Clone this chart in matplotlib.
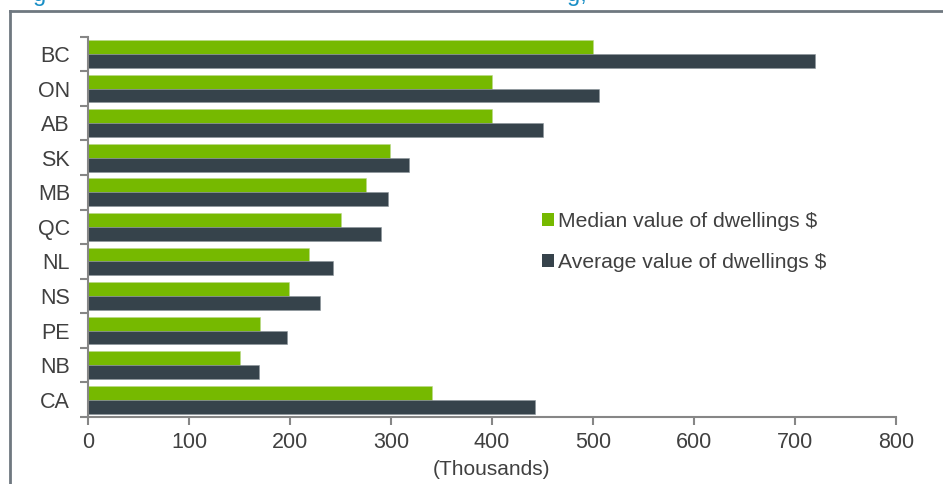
import matplotlib
matplotlib.use("Agg")
import matplotlib.pyplot as plt
from matplotlib.lines import Line2D
from matplotlib.patches import Patch
import numpy as np

plt.rcParams['font.family'] = ['Liberation Sans', 'DejaVu Sans']

provinces = ["BC", "ON", "AB", "SK", "MB", "QC", "NL", "NS", "PE", "NB", "CA"]
median_value = [500, 400, 400, 299, 275, 250, 219, 199, 170, 150, 341]
average_value = [720, 506, 450, 318, 297, 290, 243, 230, 197, 169, 443]
x_ticks = [0, 100, 200, 300, 400, 500, 600, 700, 800]
series_names = ["Median value of dwellings $", "Average value of dwellings $"]
x_label = "(Thousands)"

GREEN = "#76b900"
DARK = "#36434b"
TEXT = "#404040"
AXIS = "#868686"
FRAME = "#6f7880"
TITLE = "#1a8fc6"

W, H = 943, 484
fig = plt.figure(figsize=(W / 100, H / 100), dpi=100)
ax = fig.add_axes([88 / W, 1 - 417 / H, (896 - 88) / W, (417 - 36.7) / H])

n = len(provinces)
centers = np.arange(n) + 0.5
bar_h = 0.4
ax.barh(centers - bar_h / 2, median_value, height=bar_h, color=GREEN,
        edgecolor="#b9d98a", linewidth=0.4)
ax.barh(centers + bar_h / 2, average_value, height=bar_h, color=DARK,
        edgecolor="#8a949a", linewidth=0.4)

ax.set_ylim(n, 0)
ax.set_xlim(0, 800)

# Category labels centred in each band, tick marks on the band boundaries
ax.set_yticks(centers)
ax.set_yticklabels(provinces)
ax.set_yticks(np.arange(n + 1), minor=True)
ax.tick_params(axis="y", which="major", length=0, pad=13, labelsize=15.5, labelcolor=TEXT)
ax.tick_params(axis="y", which="minor", length=6, width=1.5, color=AXIS, direction="out")

ax.set_xticks(x_ticks)
ax.tick_params(axis="x", which="major", length=6, width=1.5, color=AXIS,
               direction="out", pad=5, labelsize=15.5, labelcolor=TEXT)
ax.set_xlabel(x_label, fontsize=15, color=TEXT, labelpad=5)

for side in ("top", "right"):
    ax.spines[side].set_visible(False)
for side in ("left", "bottom"):
    ax.spines[side].set_color(AXIS)
    ax.spines[side].set_linewidth(1.5)

handles = [Patch(facecolor=GREEN, edgecolor="none"), Patch(facecolor=DARK, edgecolor="none")]
leg = fig.legend(handles, series_names, loc="center left",
                 bbox_to_anchor=(523 / W, 1 - 242 / H), frameon=False,
                 fontsize=15.2, labelcolor=TEXT, handlelength=0.55, handleheight=0.55,
                 handletextpad=0.22, labelspacing=1.05)

# Outer frame (left and top edges)
fig.add_artist(Line2D([10 / W, 10 / W], [0, 1 - 11 / H], transform=fig.transFigure,
                      color=FRAME, linewidth=2))
fig.add_artist(Line2D([10 / W, 1], [1 - 11 / H, 1 - 11 / H], transform=fig.transFigure,
                      color=FRAME, linewidth=2))

# Lower edge of the heading line above the frame
fig.text(33 / W, 1 - 1 / H, "g", color=TITLE, fontsize=17, va="baseline", ha="left")
fig.text(567 / W, 1 - 1 / H, "g,", color=TITLE, fontsize=17, va="baseline", ha="left")

fig.savefig("out.png", dpi=100)
